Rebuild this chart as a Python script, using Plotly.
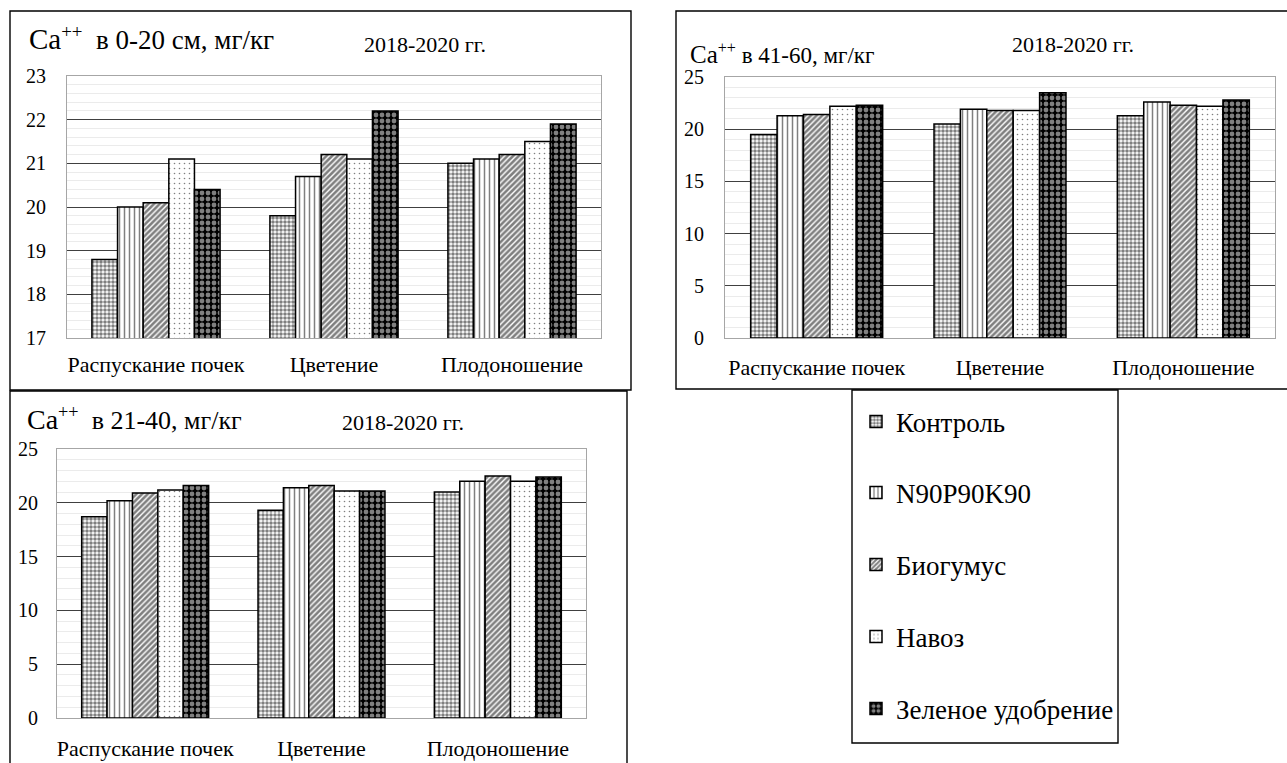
import plotly.graph_objects as go

# ---- data -------------------------------------------------------------
categories = ["Распускание почек", "Цветение", "Плодоношение"]
series_names = ["Контроль", "N90P90K90", "Биогумус", "Навоз", "Зеленое удобрение"]

# Ca++ content, mg/kg, by growth stage (one row per treatment)
ca_0_20 = [
    [18.8, 19.8, 21.0],
    [20.0, 20.7, 21.1],
    [20.1, 21.2, 21.2],
    [21.1, 21.1, 21.5],
    [20.4, 22.2, 21.9],
]
ca_21_40 = [
    [18.7, 19.3, 21.0],
    [20.2, 21.4, 22.0],
    [20.9, 21.6, 22.5],
    [21.2, 21.1, 22.0],
    [21.6, 21.1, 22.4],
]
ca_41_60 = [
    [19.5, 20.5, 21.3],
    [21.3, 21.9, 22.6],
    [21.4, 21.8, 22.3],
    [22.2, 21.8, 22.2],
    [22.3, 23.5, 22.8],
]

y_ticks_0_20 = [17, 18, 19, 20, 21, 22, 23]
y_ticks_deep = [0, 5, 10, 15, 20, 25]

# ---- styling ----------------------------------------------------------
W, H = 1287, 763
FONT = "Liberation Serif, Times New Roman, DejaVu Serif, serif"

patterns = [
    dict(shape=".", fgcolor="black", bgcolor="white", size=4, solidity=0.62),
    dict(shape="|", fgcolor="black", bgcolor="white", size=5, solidity=0.3),
    dict(shape="/", fgcolor="black", bgcolor="white", size=4, solidity=0.65),
    dict(shape=".", fgcolor="black", bgcolor="white", size=5, solidity=0.08),
    dict(shape=".", fgcolor="white", bgcolor="black", size=6, solidity=0.5),
]


def px(x):
    return x / W


def py(y):
    return 1 - y / H


fig = go.Figure()

panels = [
    ("x", "y", ca_0_20),
    ("x2", "y2", ca_41_60),
    ("x3", "y3", ca_21_40),
]

for p, (xa, ya, block) in enumerate(panels):
    for i, name in enumerate(series_names):
        fig.add_trace(go.Bar(
            x=categories,
            y=block[i],
            name=name,
            xaxis=xa,
            yaxis=ya,
            marker=dict(color=patterns[i]["bgcolor"], pattern=patterns[i],
                        line=dict(color="black", width=1.5)),
            showlegend=(p == 0),
            legend=("legend" if i == 0 else f"legend{i + 1}"),
        ))

axis_common = dict(
    showline=True, linecolor="#a6a6a6", linewidth=1, mirror=True,
    automargin=False,
)


def x_axis(domain, anchor, standoff):
    return dict(axis_common, domain=domain, anchor=anchor,
                showgrid=False, ticks="",
                tickfont=dict(family=FONT, size=22, color="black"),
                ticklabelstandoff=standoff, fixedrange=True)


def y_axis(domain, anchor, rng, ticks, dmin, standoff):
    return dict(axis_common, domain=domain, anchor=anchor,
                range=rng, tickvals=ticks, ticks="",
                showgrid=True, gridcolor="#404040", gridwidth=1,
                minor=dict(dtick=dmin, showgrid=True, gridcolor="#ebebeb",
                           gridwidth=1),
                zeroline=False,
                tickfont=dict(family=FONT, size=20, color="black"),
                ticklabelstandoff=standoff)


fig.update_layout(
    width=W, height=H,
    margin=dict(l=0, r=0, t=0, b=0, pad=0, autoexpand=False),
    paper_bgcolor="white", plot_bgcolor="white",
    barmode="group", bargap=0.28, bargroupgap=0,
    font=dict(family=FONT, color="black"),
    xaxis=x_axis([px(67), px(601)], "y", 7),
    yaxis=y_axis([py(338), py(76)], "x", [17, 23], y_ticks_0_20, 0.2, 16),
    xaxis2=x_axis([px(725), px(1275)], "y2", 10),
    yaxis2=y_axis([py(338), py(77)], "x2", [0, 25], y_ticks_deep, 1, 16),
    xaxis3=x_axis([px(57), px(586)], "y3", 11),
    yaxis3=y_axis([py(718), py(449)], "x3", [0, 25], y_ticks_deep, 1, 14),
)

# one legend box per treatment, stacked inside the framed legend panel
legend_rows = [422, 493, 565, 637, 709]
for i, yc in enumerate(legend_rows):
    key = "legend" if i == 0 else f"legend{i + 1}"
    fig.update_layout({key: dict(
        x=px(856), y=py(yc), xanchor="left", yanchor="middle",
        bgcolor="rgba(0,0,0,0)", borderwidth=0,
        font=dict(family=FONT, size=27, color="black"),
        itemclick=False, itemdoubleclick=False,
    )})

# frames around each panel and the legend
frames = [
    (10, 11, 631, 390),
    (676, 11, 1295, 389),
    (10, 391, 627, 775),
    (852, 390, 1118, 743),
]
for x0, y0, x1, y1 in frames:
    fig.add_shape(type="rect", xref="paper", yref="paper",
                  x0=px(x0), x1=px(x1), y0=py(y1), y1=py(y0),
                  line=dict(color="black", width=1.4), fillcolor="rgba(0,0,0,0)")

# panel headings
titles = [
    ("<span style='font-size:29px'>Ca</span><sup>++</sup>\u00a0 в 0-20 см, мг/кг", 27, 38, 27),
    ("<span style='font-size:25px'>Ca</span><sup>++</sup> в 41-60, мг/кг", 688, 53, 23),
    ("<span style='font-size:28px'>Ca</span><sup>++</sup>\u00a0 в 21-40, мг/кг", 25, 418, 26),
]
for text, x, y, size in titles:
    fig.add_annotation(text=text, xref="paper", yref="paper", x=px(x), y=py(y),
                       xanchor="left", yanchor="middle", showarrow=False,
                       font=dict(family=FONT, size=size, color="black"))

years = [(362, 45), (1010, 44), (340, 422)]
for x, y in years:
    fig.add_annotation(text="2018-2020 гг.", xref="paper", yref="paper",
                       x=px(x), y=py(y), xanchor="left", yanchor="middle",
                       showarrow=False,
                       font=dict(family=FONT, size=22, color="black"))

fig.write_html("out.html")
